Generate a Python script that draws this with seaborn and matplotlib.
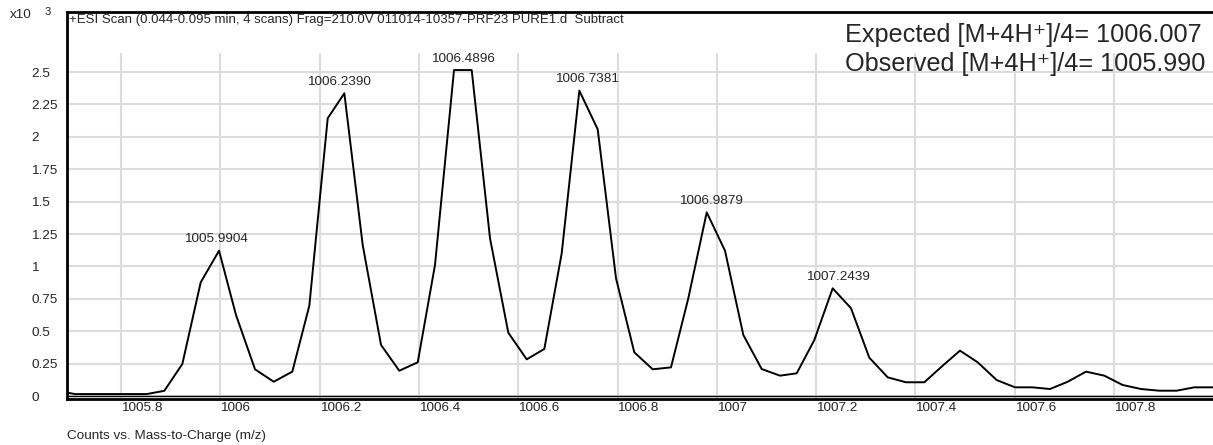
import numpy as np
import pandas as pd
import matplotlib
matplotlib.use('Agg')
import matplotlib.pyplot as plt
import seaborn as sns

# profile (m/z, counts x10^3)
mz = [1005.6711, 1005.7074, 1005.7436, 1005.7799, 1005.8161, 1005.8518, 1005.8872, 1005.9235,
      1005.9605, 1005.9974, 1006.0316, 1006.0699, 1006.1076, 1006.1450, 1006.1793, 1006.2163,
      1006.2498, 1006.2868, 1006.3237, 1006.3605, 1006.3976, 1006.4324, 1006.4707, 1006.5063,
      1006.5432, 1006.5801, 1006.6171, 1006.6526, 1006.6876, 1006.7231, 1006.7601, 1006.7970,
      1006.8338, 1006.8709, 1006.9077, 1006.9426, 1006.9797, 1007.0165, 1007.0534, 1007.0904,
      1007.1273, 1007.1609, 1007.1964, 1007.2334, 1007.2703, 1007.3071, 1007.3442, 1007.3811,
      1007.4179, 1007.4550, 1007.4898, 1007.5255, 1007.5637, 1007.6006, 1007.6354, 1007.6711,
      1007.7067, 1007.7436, 1007.7805, 1007.8175, 1007.8544, 1007.8912, 1007.9263, 1007.9617,
      1007.9994, 1008.0360]
counts = [0.040, 0.015, 0.015, 0.015, 0.015, 0.015, 0.040, 0.247,
          0.877, 1.121, 0.625, 0.206, 0.110, 0.188, 0.697, 2.143,
          2.336, 1.165, 0.394, 0.195, 0.260, 1.011, 2.515, 2.515,
          1.217, 0.488, 0.283, 0.363, 1.101, 2.356, 2.058, 0.908,
          0.337, 0.206, 0.221, 0.754, 1.417, 1.121, 0.471, 0.208,
          0.157, 0.175, 0.432, 0.831, 0.677, 0.296, 0.144, 0.106,
          0.106, 0.234, 0.350, 0.260, 0.123, 0.067, 0.067, 0.054,
          0.110, 0.188, 0.157, 0.085, 0.054, 0.041, 0.041, 0.067,
          0.067, 0.067]

peak_labels = [1005.9904, 1006.2390, 1006.4896, 1006.7381, 1006.9879, 1007.2439]

xticks = [1005.8, 1006.0, 1006.2, 1006.4, 1006.6, 1006.8, 1007.0, 1007.2, 1007.4, 1007.6, 1007.8]
xticklabels = ['1005.8', '1006', '1006.2', '1006.4', '1006.6', '1006.8', '1007',
               '1007.2', '1007.4', '1007.6', '1007.8']
yticks = [0, 0.25, 0.5, 0.75, 1, 1.25, 1.5, 1.75, 2, 2.25, 2.5]
yticklabels = ['0', '0.25', '0.5', '0.75', '1', '1.25', '1.5', '1.75', '2', '2.25', '2.5']

title = '+ESI Scan (0.044-0.095 min, 4 scans) Frag=210.0V 011014-10357-PRF23 PURE1.d  Subtract'
expected_txt = 'Expected [M+4H\u207a]/4= 1006.007'
observed_txt = 'Observed [M+4H\u207a]/4= 1005.990'

sns.set_style('white')
plt.rcParams['font.family'] = ['Liberation Sans', 'DejaVu Sans']

df = pd.DataFrame({'mz': mz, 'counts': counts})

fig = plt.figure(figsize=(12.13, 4.45), dpi=100)
ax = fig.add_axes([67 / 1213, 1 - 398.6 / 445, 1146 / 1213, 386.6 / 445])

grid_c = '#dcdcdc'
ylo, yhi = -0.02, 2.963
ax.set_xlim(1005.6912, 1007.9994)
ax.set_ylim(ylo, yhi)

ax.set_axisbelow(True)
ax.grid(axis='y', color=grid_c, lw=1.5)
ax.vlines(xticks, ylo, 2.645, color=grid_c, lw=1.5, zorder=0)
ax.axhline(0, color='black', lw=1.0, zorder=2)

sns.lineplot(data=df, x='mz', y='counts', color='black', lw=1.4, estimator=None, ax=ax, zorder=3)

# peak labels
for lab in peak_labels:
    near = df[(df.mz > lab - 0.03) & (df.mz < lab + 0.03)]
    ax.annotate(f'{lab:.4f}', (lab, near.counts.max()), xytext=(0, 8.3),
                textcoords='offset points', ha='center', va='center', fontsize=9.7)

ax.set_xticks(xticks)
ax.set_xticklabels(xticklabels, fontsize=9.7)
ax.set_yticks(yticks)
ax.set_yticklabels(yticklabels, fontsize=9.7)
for t in ax.get_xticklabels():
    t.set_ha('left')
for t in ax.get_yticklabels():
    t.set_ha('left')
ax.tick_params(axis='x', direction='out', length=5, width=1.5, pad=-2.2, color='black')
ax.tick_params(axis='y', direction='out', length=5, width=1.5, pad=20.9, color='black')
ax.set_xlabel('')
ax.set_ylabel('')

for s in ['left', 'top', 'bottom']:
    ax.spines[s].set_visible(True)
    ax.spines[s].set_color('black')
    ax.spines[s].set_linewidth(2)
ax.spines['right'].set_visible(False)

ax.text(0.002, 0.995, title, transform=ax.transAxes, ha='left', va='top', fontsize=9.5)

fig.text(845 / 1213, 1 - 35 / 445, expected_txt, ha='left', va='center', fontsize=18.2)
fig.text(845 / 1213, 1 - 64 / 445, observed_txt, ha='left', va='center', fontsize=18.2)

fig.text(10 / 1213, 1 - 15 / 445, 'x10', ha='left', va='center', fontsize=9.7)
fig.text(45 / 1213, 1 - 12 / 445, '3', ha='left', va='center', fontsize=8)
fig.text(67 / 1213, 1 - 436 / 445, 'Counts vs. Mass-to-Charge (m/z)', ha='left', va='center', fontsize=9.7)

fig.savefig('out.png', dpi=100)
